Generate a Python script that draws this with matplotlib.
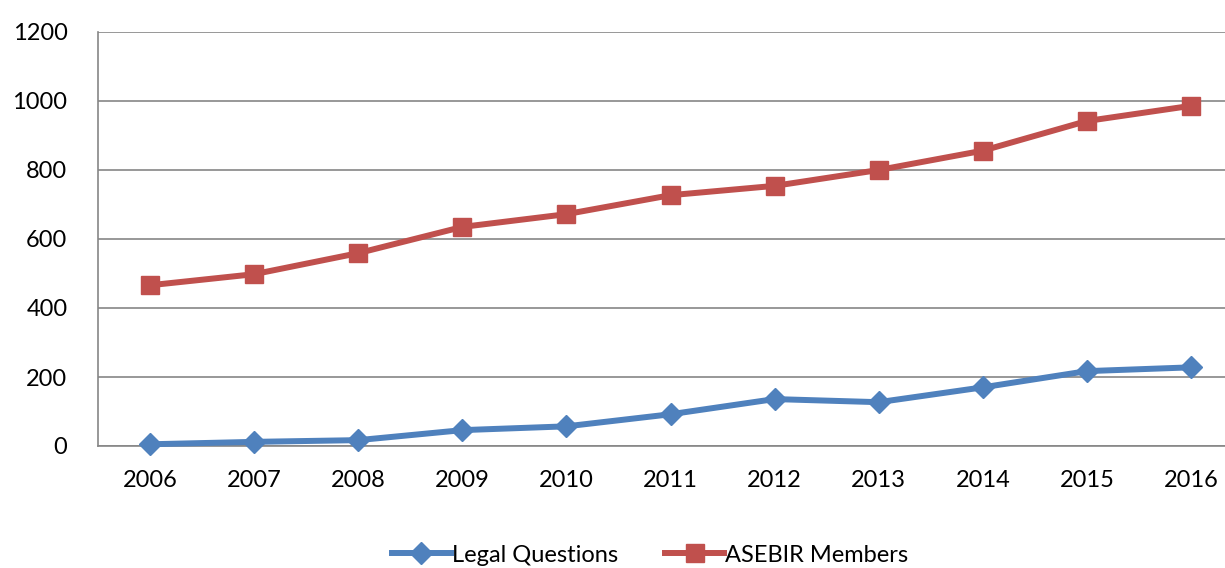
import matplotlib.pyplot as plt

years = ["2006", "2007", "2008", "2009", "2010", "2011", "2012", "2013", "2014", "2015", "2016"]
legal_questions = [5, 12, 17, 46, 57, 92, 136, 127, 170, 217, 228]
asebir_members = [466, 498, 559, 635, 672, 727, 754, 800, 856, 942, 986]

plt.rcParams['font.family'] = ['Lato', 'DejaVu Sans']

fig = plt.figure(figsize=(12.25, 5.68), dpi=100)
ax = fig.add_axes([98/1225, 1 - 446/568, 1145/1225, 414/568])

x = range(len(years))
ax.plot(x, legal_questions, color='#4F81BD', lw=4.3, marker='D', markersize=11,
        label='Legal Questions', clip_on=False, zorder=3)
ax.plot(x, asebir_members, color='#C0504D', lw=4.3, marker='s', markersize=13,
        label='ASEBIR Members', clip_on=False, zorder=3)

ax.set_xlim(-0.5, len(years) - 0.5)
ax.set_ylim(0, 1200)
ax.set_yticks(range(0, 1201, 200))
ax.set_xticks(list(x))
ax.set_xticklabels(years)
ax.yaxis.grid(True, color='#868686', lw=1.2)
ax.set_axisbelow(True)
for s in ['top', 'right']:
    ax.spines[s].set_visible(False)
ax.spines['left'].set_color('#868686')
ax.spines['bottom'].set_color('#868686')
ax.spines['left'].set_linewidth(1.2)
ax.spines['bottom'].set_linewidth(1.2)
ax.tick_params(length=0, labelsize=17, colors='black')
ax.tick_params(axis='y', pad=22)
ax.tick_params(axis='x', pad=17)

fig.legend(loc='center', bbox_to_anchor=(650/1225, 1 - 555/568), ncol=2,
           frameon=False, fontsize=17, handlelength=2.5, columnspacing=2.0,
           handletextpad=0.05)

fig.savefig("out.png", dpi=100)
